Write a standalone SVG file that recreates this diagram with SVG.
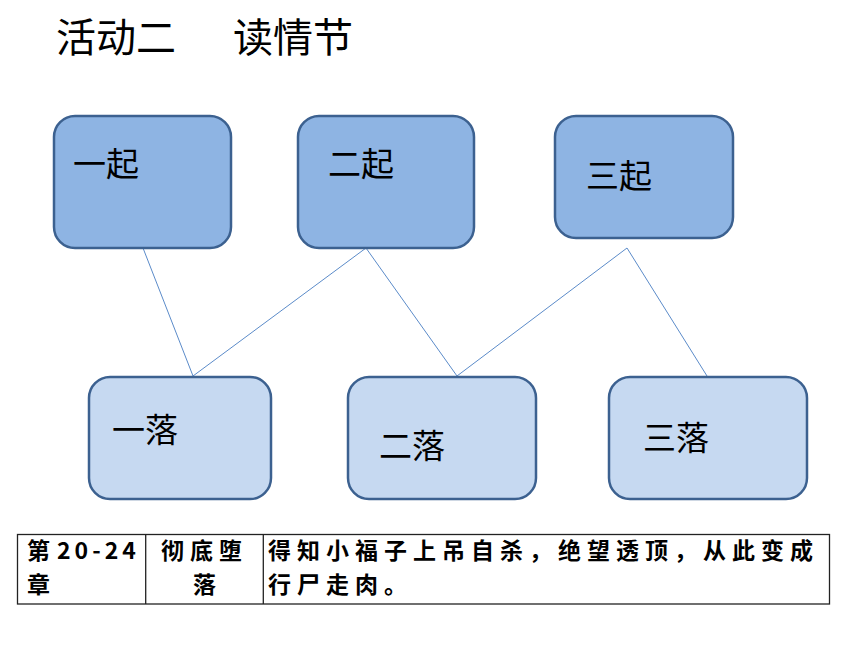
<svg xmlns="http://www.w3.org/2000/svg" width="860" height="645" viewBox="0 0 860 645">
<style>
  .title{font-family:"Noto Sans CJK SC","Noto Sans",sans-serif;font-size:40px;fill:#000}
  .qi{fill:#8EB4E3;stroke:#3C6190;stroke-width:2.5}
  .luo{fill:#C6D9F1;stroke:#3C6190;stroke-width:2.5}
  .lbl{font-family:"Noto Sans CJK SC","Noto Sans",sans-serif;font-size:33px;fill:#000}
  .conn line{stroke:#5B8BC9;stroke-width:1}
  .tbl{fill:none;stroke:#222;stroke-width:1.3}
  .tt{font-family:"Noto Sans CJK SC","Noto Sans",sans-serif;font-size:23px;font-weight:700;fill:#000;letter-spacing:6px}
</style>
<rect width="860" height="645" fill="#fff"/>
<text class="title" y="52"><tspan x="56">活动二</tspan><tspan x="233">读情节</tspan></text>

<g id="connectors" class="conn">
  <line x1="143" y1="248" x2="193" y2="376"/>
  <line x1="366" y1="248" x2="193" y2="376"/>
  <line x1="366" y1="248" x2="457" y2="376"/>
  <line x1="627" y1="248" x2="457" y2="376"/>
  <line x1="627" y1="248" x2="707" y2="376"/>
</g>

<g id="node-yiqi"><rect class="qi" x="54" y="116" width="177" height="132" rx="21"/><text class="lbl" x="73" y="175.5">一起</text></g>
<g id="node-erqi"><rect class="qi" x="298" y="116" width="176" height="132" rx="21"/><text class="lbl" x="328" y="175.5">二起</text></g>
<g id="node-sanqi"><rect class="qi" x="555" y="116" width="178" height="122" rx="21"/><text class="lbl" x="586" y="187.5">三起</text></g>
<g id="node-yiluo"><rect class="luo" x="89" y="377" width="182" height="122" rx="21"/><text class="lbl" x="112" y="441.5">一落</text></g>
<g id="node-erluo"><rect class="luo" x="348" y="377" width="188" height="122" rx="21"/><text class="lbl" x="379" y="457.5">二落</text></g>
<g id="node-sanluo"><rect class="luo" x="609" y="377" width="198" height="122" rx="21"/><text class="lbl" x="643" y="449.5">三落</text></g>

<g id="table">
  <rect class="tbl" x="17.5" y="534.5" width="812" height="69.5"/>
  <line class="tbl" x1="145.7" y1="534.5" x2="145.7" y2="604"/>
  <line class="tbl" x1="263.3" y1="534.5" x2="263.3" y2="604"/>
  <text class="tt" y="559"><tspan x="27">第</tspan><tspan x="57" style="letter-spacing:4px">20-24</tspan></text>
  <text class="tt" x="27" y="593">章</text>
  <text class="tt" x="161" y="559">彻底堕</text>
  <text class="tt" x="193" y="593">落</text>
  <text class="tt" x="268" y="559">得知小福子上吊自杀，绝望透顶，从此变成</text>
  <text class="tt" x="268" y="593">行尸走肉。</text>
</g>
</svg>
